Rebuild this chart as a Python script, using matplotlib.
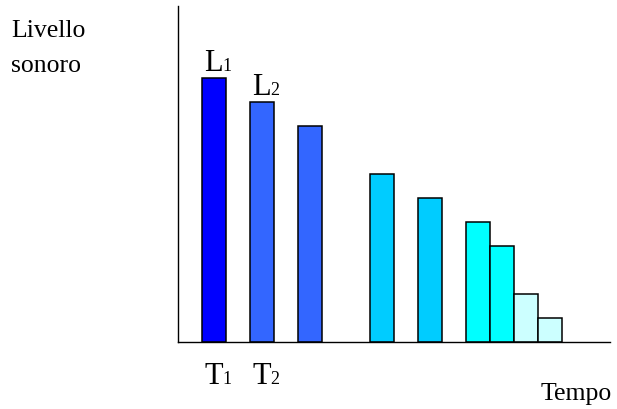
import matplotlib
matplotlib.use("Agg")
import matplotlib.pyplot as plt

plt.rcParams['font.family'] = ['Liberation Serif', 'DejaVu Serif']

# bar slots along the time axis and their levels
positions = [1, 3, 5, 8, 10, 12, 13, 14, 15]
levels = [11, 10, 9, 7, 6, 5, 4, 2, 1]
colors = ['#0000FF', '#3366FF', '#3366FF', '#00CCFF', '#00CCFF',
          '#00FFFF', '#00FFFF', '#CCFFFF', '#CCFFFF']
level_labels = [('L', '1'), ('L', '2')]
time_labels = [('T', '1'), ('T', '2')]

W, H = 617, 410
fig = plt.figure(figsize=(W / 100, H / 100), dpi=100)
ax = fig.add_axes([178 / W, (H - 343) / H, 432 / W, 336 / H])

ax.bar(positions, levels, width=1.0, align='edge', color=colors,
       edgecolor='black', linewidth=1.1, zorder=2)

ax.set_xlim(0, 18)
ax.set_ylim(0, 14)
ax.spines['top'].set_visible(False)
ax.spines['right'].set_visible(False)
ax.spines['left'].set_linewidth(1.0)
ax.spines['bottom'].set_linewidth(1.0)
ax.set_xticks([])
ax.set_yticks([])


def big_small(x, y, big, small, dy_pt, big_size=22, small_size=13):
    # big letter followed by a smaller index on the same baseline
    ax.annotate(big, xy=(x, y), xytext=(1.5, dy_pt), textcoords='offset points',
                fontsize=big_size, va='baseline', ha='left', annotation_clip=False)
    ax.annotate(small, xy=(x, y), xytext=(1.0 + 0.611 * big_size, dy_pt),
                textcoords='offset points', fontsize=small_size,
                va='baseline', ha='left', annotation_clip=False)


for (big, small), x, lv in zip(level_labels, positions, levels):
    big_small(x, lv, big, small, 6)

for (big, small), x in zip(time_labels, positions):
    big_small(x, 0, big, small, -29.5)

fig.text(11 / W, 1 - 37 / H, 'Livello', fontsize=18.5, va='baseline', ha='left')
fig.text(11 / W, 1 - 72 / H, 'sonoro', fontsize=18.5, va='baseline', ha='left')
fig.text(541 / W, 1 - 400 / H, 'Tempo', fontsize=18.5, va='baseline', ha='left')

plt.savefig('out.png', dpi=100)
